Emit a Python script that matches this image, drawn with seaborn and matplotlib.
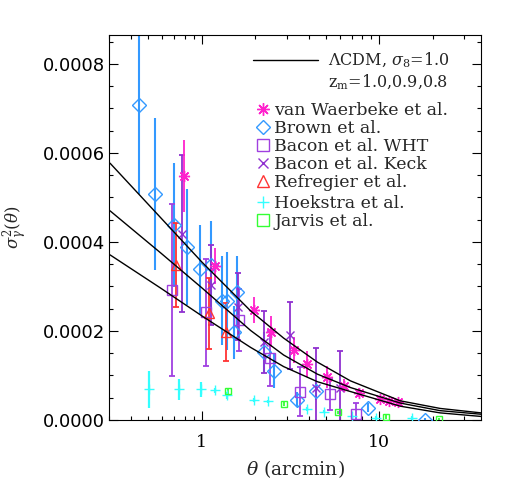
import numpy as np
import matplotlib
matplotlib.use("Agg")
import matplotlib.pyplot as plt
import seaborn as sns
from matplotlib.lines import Line2D
from matplotlib.ticker import MultipleLocator, FormatStrFormatter, LogLocator, NullFormatter, FixedLocator

# estilo base
sns.set_style("ticks")
plt.rcParams["font.family"] = ["DejaVu Serif"]
plt.rcParams["mathtext.fontset"] = "dejavuserif"

# ========================================
# DATOS (valores en unidades de 1e-4)
# ========================================
# curvas LCDM, sigma8=1.0, z_m = 1.0, 0.9, 0.8
theta_model = [0.304, 0.588, 1.0, 1.885, 2.89, 4.48, 6.87, 13.15, 22.0, 37.4]
model_z10 = [5.77, 4.54, 3.55, 2.45, 1.84, 1.30, 0.88, 0.43, 0.26, 0.16]
model_z09 = [4.70, 3.75, 2.97, 2.01, 1.46, 1.03, 0.73, 0.38, 0.21, 0.13]
model_z08 = [3.71, 2.96, 2.34, 1.63, 1.20, 0.86, 0.64, 0.31, 0.16, 0.08]

# van Waerbeke et al.
vw_theta = [0.79, 1.18, 1.97, 2.46, 3.30, 3.89, 5.09, 6.36, 7.66, 10.1, 11.4, 12.7]
vw_val = [5.48, 3.46, 2.47, 1.98, 1.57, 1.26, 0.97, 0.77, 0.61, 0.47, 0.43, 0.40]
vw_err = [0.80, 0.40, 0.30, 0.35, 0.30, 0.30, 0.25, 0.15, 0.10, 0.06, 0.06, 0.06]

# Brown et al.
br_theta = [0.444, 0.545, 0.699, 0.824, 0.978, 1.12, 1.295, 1.38, 1.587, 1.51, 2.24, 2.55, 3.42, 4.37, 8.59, 18.1]
br_val = [7.08, 5.08, 4.38, 3.88, 3.39, 3.48, 2.68, 2.68, 2.88, 1.97, 1.52, 1.11, 0.46, 0.66, 0.28, 0.0]
br_err = [2.0, 1.7, 1.4, 1.3, 1.0, 1.0, 1.0, 1.1, 0.8, 0.6, 0.45, 0.4, 0.17, 0.2, 0.1, 0.05]

# Bacon et al. WHT
bw_theta = [0.675, 1.05, 1.63, 2.42, 3.56, 5.26, 7.42]
bw_val = [2.92, 2.42, 2.25, 1.39, 0.64, 0.58, 0.13]
bw_err = [1.93, 1.20, 0.70, 0.62, 0.55, 0.35, 0.25]

# Bacon et al. Keck
bk_theta = [0.77, 1.12, 1.59, 2.24, 3.14, 4.37, 5.98]
bk_val = [4.19, 3.03, 2.55, 1.76, 1.90, 0.71, 0.71]
bk_err = [1.77, 0.90, 0.75, 0.70, 0.75, 0.90, 0.85]

# Refregier et al.
rf_theta = [0.714, 1.10, 1.36]
rf_val = [3.48, 2.40, 1.98]
rf_err = [0.95, 0.80, 0.65]

# Hoekstra et al.
hk_theta = [0.502, 0.74, 0.987, 1.19, 1.39, 1.97, 2.36, 3.89, 4.86, 7.03, 9.6, 15.3]
hk_val = [0.69, 0.69, 0.69, 0.67, 0.56, 0.45, 0.42, 0.25, 0.19, 0.08, 0.05, 0.04]
hk_err = [0.42, 0.24, 0.17, 0.06, 0.08, 0.05, 0.04, 0.04, 0.04, 0.04, 0.04, 0.04]

# Jarvis et al.
jv_theta = [1.40, 2.92, 5.84, 10.9, 21.7]
jv_val = [0.65, 0.36, 0.17, 0.07, 0.02]
jv_err = [0.06, 0.05, 0.04, 0.04, 0.03]

escala = 1e-4

# colores
c_vw = "#FF22CC"
c_br = "#3399FF"
c_bw = "#A040E0"
c_bk = "#9030D0"
c_rf = "#FF3333"
c_hk = "#33FFFF"
c_jv = "#33FF33"

fig = plt.figure(figsize=(5.14, 4.91), dpi=100)
ax = fig.add_axes([0.2121, 0.1446, 0.7237, 0.7841])
ax.set_xscale("log")


def dibujar(theta, val, err, color, marker, ms, cap=0.0, mew=1.0, elw=1.3):
    """Barras de error + marcador hueco"""
    t = np.array(theta)
    v = np.array(val) * escala
    e = np.array(err) * escala
    ax.errorbar(t, v, yerr=e, fmt="none", ecolor=color, elinewidth=elw,
                capsize=cap, capthick=elw, zorder=2)
    ax.plot(t, v, linestyle="none", marker=marker, markersize=ms, markeredgecolor=color,
            markerfacecolor="none", markeredgewidth=mew, zorder=3)


dibujar(hk_theta, hk_val, hk_err, c_hk, "+", 7, elw=1.6)
dibujar(jv_theta, jv_val, jv_err, c_jv, "s", 5)
dibujar(br_theta, br_val, br_err, c_br, "D", 7, elw=1.5)
dibujar(bw_theta, bw_val, bw_err, c_bw, "s", 6.5, cap=2)
dibujar(bk_theta, bk_val, bk_err, c_bk, "x", 6, cap=2)
dibujar(rf_theta, rf_val, rf_err, c_rf, "^", 7, cap=2)
dibujar(vw_theta, vw_val, vw_err, c_vw, (8, 2, 0), 8)

# curvas del modelo
for curva in [model_z10, model_z09, model_z08]:
    sns.lineplot(x=theta_model, y=np.array(curva) * escala, color="black", linewidth=1.0,
                 ax=ax, zorder=4)

# ejes
ax.set_xlim(0.3, 37.4)
ax.set_ylim(0, 0.000865)
ax.yaxis.set_major_locator(MultipleLocator(0.0002))
ax.yaxis.set_minor_locator(MultipleLocator(0.00005))
ax.yaxis.set_major_formatter(FormatStrFormatter("%.4f"))
ax.xaxis.set_major_locator(FixedLocator([1, 10]))
ax.xaxis.set_major_formatter(FormatStrFormatter("%d"))
ax.xaxis.set_minor_locator(LogLocator(base=10, subs=np.arange(2, 10)))
ax.xaxis.set_minor_formatter(NullFormatter())
ax.tick_params(which="both", direction="in", top=True, right=True, width=0.8, colors="black")
ax.tick_params(which="major", length=6.5)
ax.tick_params(which="minor", length=3.2)
ax.tick_params(axis="x", labelsize=12.5, pad=10)
ax.tick_params(axis="y", labelsize=13, pad=3)
for lab in ax.get_yticklabels():
    lab.set_family("DejaVu Sans")
for sp in ax.spines.values():
    sp.set_linewidth(0.8)
    sp.set_color("black")

ax.set_xlabel(r"$\theta$ (arcmin)", fontsize=13.5, labelpad=5)
ax.set_ylabel(r"$\sigma^2_\gamma(\theta)$", fontsize=12, labelpad=9)

# leyendas
fs = 12.5
fs_mod = 11.5
leg1 = ax.legend(handles=[Line2D([], [], color="black", linewidth=1.0)],
                 labels=[r"$\Lambda$CDM, $\sigma_8$=1.0"], loc="upper left",
                 bbox_to_anchor=(0.387, 0.960), frameon=False, fontsize=fs_mod,
                 handlelength=4.05, handletextpad=0.62, borderpad=0, borderaxespad=0)
ax.add_artist(leg1)
ax.text(0.589, 0.878, r"z$_{\rm m}$=1.0,0.9,0.8", transform=ax.transAxes, fontsize=fs_mod,
        va="center", ha="left")


def h(marker, color, ms):
    return Line2D([], [], linestyle="none", marker=marker, markersize=ms, markeredgecolor=color,
                  markerfacecolor="none", markeredgewidth=1.0)


leg2 = ax.legend(handles=[h((8, 2, 0), c_vw, 9), h("D", c_br, 7), h("s", c_bw, 8),
                          h("x", c_bk, 7.5), h("^", c_rf, 8)],
                 labels=["van Waerbeke et al.", "Brown et al.", "Bacon et al. WHT",
                         "Bacon et al. Keck", "Refregier et al."],
                 loc="upper left", bbox_to_anchor=(0.398, 0.826), frameon=False, fontsize=fs,
                 handlelength=0.7, handletextpad=0.28, borderpad=0, borderaxespad=0,
                 labelspacing=0.06)
ax.add_artist(leg2)
leg3 = ax.legend(handles=[h("+", c_hk, 9), h("s", c_jv, 8)],
                 labels=["Hoekstra et al.", "Jarvis et al."],
                 loc="upper left", bbox_to_anchor=(0.398, 0.584), frameon=False, fontsize=fs,
                 handlelength=0.7, handletextpad=0.28, borderpad=0, borderaxespad=0,
                 labelspacing=0.06)

fig.savefig("out.png", dpi=100)
